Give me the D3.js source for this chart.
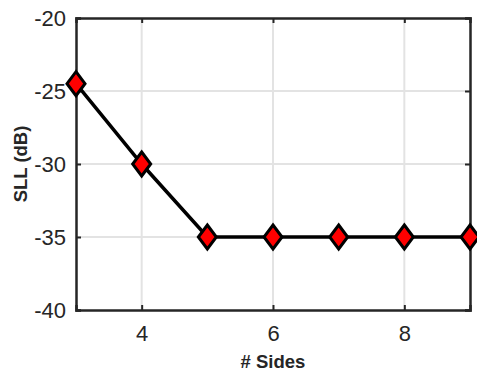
<!DOCTYPE html>
<html lang="en">
<head>
    <meta charset="utf-8">
    <title>SLL vs sides</title>
    <script src="https://d3js.org/d3.v7.min.js"></script>
    <style>
        body { margin: 0; background: #fff; }
        text { font-family: "Liberation Sans", Arial, sans-serif; }
    </style>
</head>
<body>
    <svg id="chart" width="477" height="373"></svg>
    <script>
        // data
        const sides = [3, 4, 5, 6, 7, 8, 9];
        const sll = [-24.5, -30, -35, -35, -35, -35, -35];
        const xTicks = [4, 6, 8];
        const yTicks = [-40, -35, -30, -25, -20];

        const margin = { left: 76, top: 18, right: 7, bottom: 63 };
        const width = 477 - margin.left - margin.right;
        const height = 373 - margin.top - margin.bottom;
        const axisColor = '#262626';

        let svg = d3.select('#chart');
        let g = svg.append('g').attr('transform', `translate(${margin.left},${margin.top})`);

        let x = d3.scaleLinear().domain([3, 9]).range([0, width]);
        let y = d3.scaleLinear().domain([-40, -20]).range([height, 0]);

        // grid
        g.append('g').selectAll('line.vg')
            .data(xTicks).enter().append('line')
            .attr('x1', d => x(d)).attr('x2', d => x(d))
            .attr('y1', 0).attr('y2', height)
            .attr('stroke', '#e3e3e3').attr('stroke-width', 2);
        g.append('g').selectAll('line.hg')
            .data(yTicks.filter(d => d > -40 && d < -20)).enter().append('line')
            .attr('x1', 0).attr('x2', width)
            .attr('y1', d => y(d)).attr('y2', d => y(d))
            .attr('stroke', '#e3e3e3').attr('stroke-width', 2);

        // axes (ticks inward, box)
        g.append('g').attr('transform', `translate(0,${height})`)
            .call(d3.axisBottom(x).tickValues(xTicks).tickSize(-5).tickPadding(15).tickFormat(d3.format('d')));
        g.append('g')
            .call(d3.axisLeft(y).tickValues(yTicks).tickSize(-5).tickPadding(10).tickFormat(d => d));
        g.append('g').attr('transform', `translate(${width},0)`)
            .call(d3.axisRight(y).tickValues(yTicks).tickSize(-5).tickFormat(''));
        g.append('g')
            .call(d3.axisTop(x).tickValues(xTicks).tickSize(-5).tickFormat(''));

        g.selectAll('.domain').attr('stroke', axisColor).attr('stroke-width', 2.5);
        g.selectAll('.tick line').attr('stroke', axisColor).attr('stroke-width', 2);
        g.selectAll('.tick text').attr('fill', axisColor).style('font-size', '22px');

        // line
        let line = d3.line().x((d, i) => x(sides[i])).y(d => y(d));
        g.append('path').datum(sll)
            .attr('fill', 'none').attr('stroke', '#000').attr('stroke-width', 3.5)
            .attr('d', line);

        // diamond markers
        g.selectAll('path.marker')
            .data(sll).enter().append('path')
            .attr('class', 'marker')
            .attr('transform', (d, i) => `translate(${x(sides[i])},${y(d)})`)
            .attr('d', 'M0,-12L9,0L0,12L-9,0Z')
            .attr('fill', '#ff0000').attr('stroke', '#000').attr('stroke-width', 3)
            .attr('stroke-linejoin', 'miter');

        // axis labels
        svg.append('text')
            .attr('x', margin.left + width / 2).attr('y', 368)
            .attr('text-anchor', 'middle')
            .attr('fill', axisColor)
            .style('font-size', '18.5px').style('font-weight', 'bold')
            .text('# Sides');
        svg.append('text')
            .attr('transform', `translate(27,${margin.top + height / 2}) rotate(-90)`)
            .attr('text-anchor', 'middle')
            .attr('fill', axisColor)
            .style('font-size', '18.5px').style('font-weight', 'bold')
            .text('SLL (dB)');
    </script>
</body>
</html>
